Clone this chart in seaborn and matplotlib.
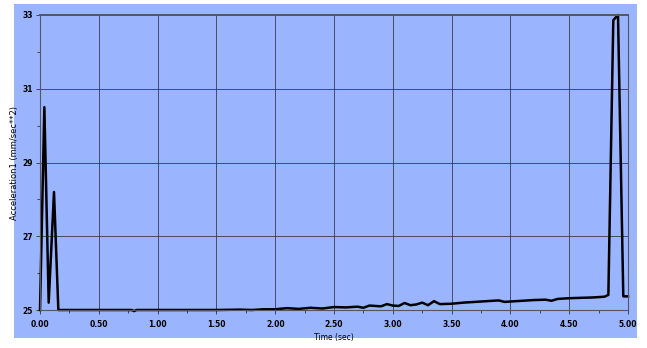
import numpy as np
import pandas as pd
import matplotlib
matplotlib.use('Agg')
import matplotlib.pyplot as plt
from matplotlib.patches import Rectangle
from matplotlib.ticker import MultipleLocator
import seaborn as sns

# values
time_sec = [0.00, 0.037, 0.074, 0.119, 0.156, 0.50, 0.78, 0.80, 0.82, 1.00, 1.50,
            1.70, 1.80, 1.90, 2.00, 2.10, 2.20, 2.30, 2.40, 2.50, 2.60, 2.70, 2.75,
            2.80, 2.90, 2.95, 3.00, 3.05, 3.10, 3.15, 3.20, 3.25, 3.30, 3.35, 3.40,
            3.50, 3.60, 3.70, 3.80, 3.90, 3.95, 4.00, 4.10, 4.20, 4.30, 4.35, 4.40,
            4.50, 4.60, 4.70, 4.80, 4.833, 4.875, 4.915, 4.96, 5.00]
accel = [25.00, 30.50, 25.20, 28.20, 25.00, 25.00, 25.00, 24.97, 25.00, 25.00, 25.00,
         25.01, 25.00, 25.02, 25.02, 25.05, 25.03, 25.06, 25.04, 25.08, 25.07, 25.09, 25.06,
         25.12, 25.10, 25.16, 25.12, 25.11, 25.19, 25.13, 25.15, 25.20, 25.13, 25.24, 25.16,
         25.17, 25.20, 25.22, 25.24, 25.26, 25.22, 25.23, 25.25, 25.27, 25.28, 25.25, 25.30,
         25.32, 25.33, 25.34, 25.36, 25.41, 32.86, 33.00, 25.37, 25.37]

x_ticks = [0.0, 0.5, 1.0, 1.5, 2.0, 2.5, 3.0, 3.5, 4.0, 4.5, 5.0]
y_ticks = [25, 27, 29, 31, 33]

df = pd.DataFrame({'t': time_sec, 'a': accel})

blue = '#9ab4fe'
fig = plt.figure(figsize=(6.47, 3.48), dpi=100, facecolor='white')
fig.patches.append(Rectangle((14 / 647, 10 / 348), 623 / 647, 334 / 348,
                             transform=fig.transFigure, facecolor=blue,
                             edgecolor='none', zorder=-5))
ax = fig.add_axes([40 / 647, 38 / 348, 588 / 647, 295 / 348])
ax.set_facecolor(blue)

sns.lineplot(data=df, x='t', y='a', ax=ax, color='black', linewidth=1.8,
             estimator=None)
for l in ax.lines:
    l.set_clip_on(False)

ax.set_xlim(0, 5)
ax.set_ylim(25, 33)
ax.set_xticks(x_ticks)
ax.set_xticklabels([f'{v:.2f}' for v in x_ticks])
ax.set_yticks(y_ticks)
ax.xaxis.set_minor_locator(MultipleLocator(0.25))
ax.yaxis.set_minor_locator(MultipleLocator(1))
ax.grid(True, which='major', color='#3a3a4a', linewidth=0.6)
ax.set_axisbelow(True)
ax.tick_params(which='major', length=3, width=0.6, color='#333333',
               labelsize=5.5, pad=4)
ax.tick_params(axis='y', which='major', pad=2)
ax.tick_params(which='minor', length=2, width=0.6, color='#333333')
for lbl in ax.get_xticklabels() + ax.get_yticklabels():
    lbl.set_fontfamily('Liberation Sans Narrow')
    lbl.set_fontweight('bold')
for s in ax.spines.values():
    s.set_color('#555566')
    s.set_linewidth(0.8)
ax.spines['top'].set_linewidth(1.4)

ax.set_xlabel('Time (sec)', fontsize=5.5, labelpad=3)
ax.set_ylabel('Acceleration1 (mm/sec**2)', fontsize=6)
ax.yaxis.set_label_coords(-0.036, 0.5)

fig.savefig('out.png', dpi=100, facecolor='white')
